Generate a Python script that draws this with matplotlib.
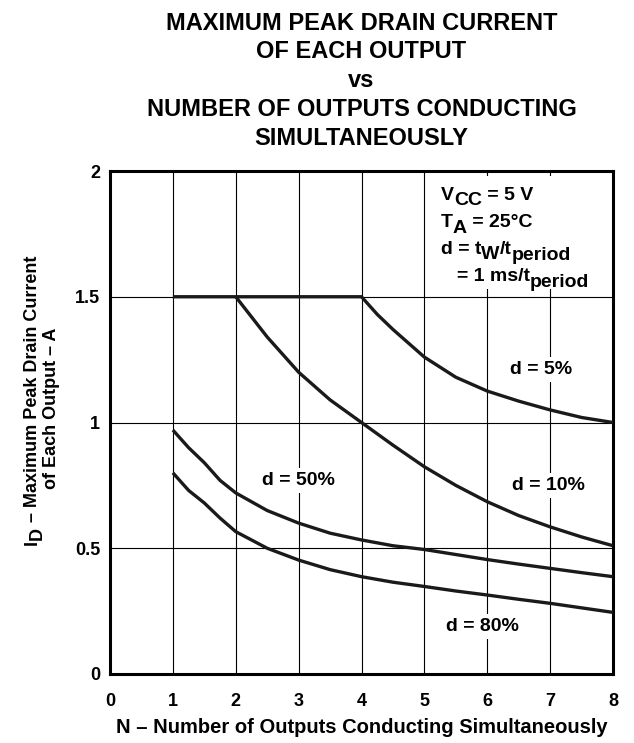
import matplotlib
matplotlib.use('Agg')
from matplotlib import pylab as plt
from matplotlib.patches import Rectangle
from matplotlib.transforms import IdentityTransform

plt.rcParams['font.family'] = ['Liberation Sans', 'DejaVu Sans']
plt.rcParams['font.weight'] = 'bold'

# curves
n_5 = [1, 4, 4.25, 4.5, 5, 5.5, 6, 6.5, 7, 7.5, 8]
id_5 = [1.5, 1.5, 1.43, 1.37, 1.26, 1.18, 1.125, 1.085, 1.05, 1.02, 1.0]

n_10 = [2, 2.5, 3, 3.5, 4, 4.5, 5, 5.5, 6, 6.5, 7, 7.5, 8]
id_10 = [1.5, 1.34, 1.2, 1.09, 1.0, 0.91, 0.824, 0.75, 0.685, 0.63, 0.585, 0.545, 0.51]

n_50 = [1, 1.25, 1.5, 1.75, 2, 2.5, 3, 3.5, 4, 4.5, 5, 5.5, 6, 6.5, 7, 7.5, 8]
id_50 = [0.97, 0.90, 0.84, 0.77, 0.72, 0.65, 0.60, 0.56, 0.533, 0.51, 0.495,
         0.475, 0.455, 0.437, 0.42, 0.403, 0.387]

n_80 = [1, 1.25, 1.5, 1.75, 2, 2.5, 3, 3.5, 4, 4.5, 5, 5.5, 6, 6.5, 7, 7.5, 8]
id_80 = [0.80, 0.73, 0.68, 0.62, 0.566, 0.50, 0.453, 0.415, 0.387, 0.365, 0.348,
         0.33, 0.314, 0.297, 0.281, 0.263, 0.245]

labels = ['d = 5%', 'd = 10%', 'd = 50%', 'd = 80%']
label_pos = [(6.85, 1.21), (6.98, 0.75), (3.0, 0.77), (5.93, 0.19)]

xticks = [0, 1, 2, 3, 4, 5, 6, 7, 8]
yticks = [0, 0.5, 1, 1.5, 2]
yticklabels = ['0', '0.5', '1', '1.5', '2']

# conditions box, (text, subscript drop in px)
note_lines = [
    [('V', 0), ('CC', 5), (' = 5 V', 0)],
    [('T', 0), ('A', 6), (' = 25°C', 0)],
    [('d = t', 0), ('W', 5), ('/t', 0), ('period', 6)],
    [('= 1 ms/t', 0), ('period', 6)],
]
W, H = 634, 743

fig = plt.figure(figsize=(6.34, 7.43), dpi=100)
ax = fig.add_axes([110 / W, 1 - 674 / H, 503 / W, 503 / H])

for xs, ys in [(n_5, id_5), (n_10, id_10), (n_50, id_50), (n_80, id_80)]:
    ax.plot(xs, ys, color='#1a1a1a', lw=2.4, zorder=3, solid_capstyle='butt')

ax.set_xlim(0, 8)
ax.set_ylim(0, 2)
ax.set_xticks(xticks)
ax.set_yticks(yticks)
ax.set_yticklabels(yticklabels)
ax.tick_params(length=0, labelsize=13)
ax.tick_params(axis='x', pad=14)
ax.tick_params(axis='y', pad=7)
ax.grid(True, color='black', lw=0.8)
ax.set_axisbelow(True)
for s in ax.spines.values():
    s.set_linewidth(2.2)

for txt, (x, y) in zip(labels, label_pos):
    ax.text(x, y, txt, ha='center', va='center', fontsize=14, fontweight='bold', zorder=4,
            bbox=dict(facecolor='white', edgecolor='none', pad=3))

# white patch behind the conditions text
ax.add_patch(Rectangle((5.12, 1.53), 2.83, 0.45, facecolor='white', edgecolor='none', zorder=2))

ax.set_xlabel('N – Number of Outputs Conducting Simultaneously', fontsize=14.5,
              fontweight='bold', labelpad=5.5)
ax.set_title('MAXIMUM PEAK DRAIN CURRENT\nOF EACH OUTPUT\nvs\n'
             'NUMBER OF OUTPUTS CONDUCTING\nSIMULTANEOUSLY',
             fontsize=17, fontweight='bold', linespacing=1.33, pad=18.5)

r = fig.canvas.get_renderer()


def put_runs(x, y, parts, size, rot=0):
    # lay text pieces one after another, in pixels from bottom left
    for s, drop in parts:
        if rot == 0:
            t = fig.text(x, y - drop, s, transform=IdentityTransform(), ha='left',
                         va='baseline', fontsize=size, fontweight='bold', zorder=5)
            x += t.get_window_extent(r).width
        else:
            t = fig.text(x + drop, y, s, transform=IdentityTransform(), ha='left',
                         va='baseline', rotation=90, rotation_mode='anchor',
                         fontsize=size, fontweight='bold', zorder=5)
            y += t.get_window_extent(r).height


note_x = [441, 441, 441, 457]
note_y = [200, 227, 254, 281]
for parts, nx, ny in zip(note_lines, note_x, note_y):
    put_runs(nx, H - ny, parts, 14)

put_runs(37, H - 545, [('I', 0), ('D', 5), (' – Maximum Peak Drain Current', 0)], 13, rot=90)
fig.text(56, H - 408, 'of Each Output – A', transform=IdentityTransform(), ha='center',
         va='baseline', rotation=90, rotation_mode='anchor', fontsize=13, fontweight='bold')

fig.savefig('out.png', dpi=100)
